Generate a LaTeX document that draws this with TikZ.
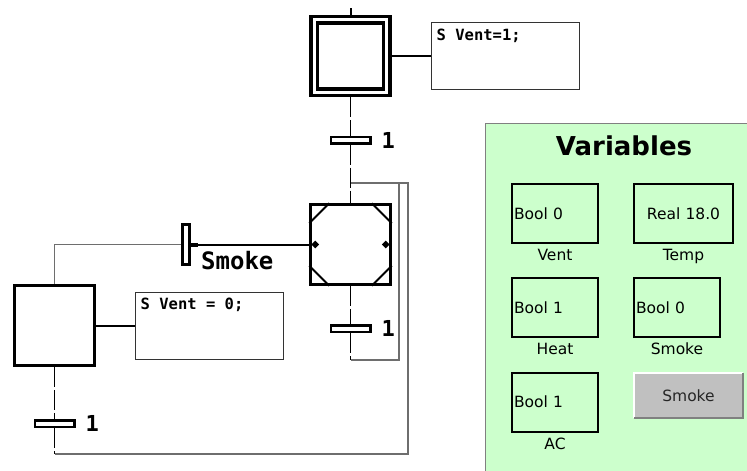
\documentclass[tikz,border=0pt]{standalone}
\usepackage{fontspec}
\setmainfont{DejaVu Sans}
\setmonofont{DejaVu Sans Mono}
\usetikzlibrary{positioning,shapes.geometric}
\definecolor{panelgreen}{RGB}{204,255,204}
\definecolor{btngray}{RGB}{192,192,192}
\definecolor{wiregray}{RGB}{110,110,110}
\tikzset{
  stepbox/.style={draw, line width=3pt, minimum size=79.5pt, inner sep=0pt, fill=white},
  trans/.style={draw, line width=2.5pt, fill=white, minimum width=39.5pt, minimum height=6.5pt, inner sep=0pt},
  actbox/.style={draw=black!80, line width=1pt, fill=white, minimum width=148pt, minimum height=67pt, inner sep=0pt},
  acttext/.style={font=\ttfamily\bfseries\fontsize{15.5}{18}\selectfont, inner sep=0pt},
  cond/.style={font=\ttfamily\bfseries\fontsize{22}{24}\selectfont, inner sep=0pt},
  flow/.style={line width=1.4pt, dash pattern=on 20pt off 3pt},
  link/.style={line width=2pt},
  back/.style={draw=wiregray, line width=1.1pt},
  varbox/.style={draw, line width=2pt, minimum height=59pt, inner sep=2pt, align=left, text width=82pt, font=\fontsize{15.5}{18}\selectfont},
  varname/.style={font=\fontsize{15.5}{18}\selectfont, inner sep=0pt},
}
\begin{document}
\begin{tikzpicture}[x=1pt, y=-1pt]
    \useasboundingbox (0,0) rectangle (747,471);

    % variables panel
    \node[draw=gray, fill=panelgreen, line width=1pt, anchor=north west, minimum width=290pt, minimum height=360pt]
        (panel) at (485,123) {};
    \node[font=\bfseries\fontsize{26}{30}\selectfont, anchor=base] (title) at (624,155) {Variables};
    \node[varbox] (vent) at (555,213.5) {Bool 0};
    \node[varbox, text width=95pt, align=center] (temp) at (683.5,213.5) {Real 18.0};
    \node[varbox] (heat) at (555,307.5) {Bool 1};
    \node[varbox] (smoke) at (677,307.5) {Bool 0};
    \node[varbox] (ac) at (555,402) {Bool 1};
    \foreach \v/\lbl in {vent/Vent, temp/Temp, heat/Heat, smoke/Smoke, ac/AC}
        \node[varname, below=5pt of \v] (\v-lbl) {\lbl};

    \node[fill=btngray, minimum width=109pt, minimum height=45pt, inner sep=0pt, font=\fontsize{15.5}{18}\selectfont, text=black!85]
        (btn) at (688.5,395.5) {Smoke};
    \draw[white, line width=2pt] (btn.south west) |- (btn.north east);
    \draw[gray, line width=2pt] (btn.south west) -| (btn.north east);

    % steps
    \node[stepbox, double, double distance=3.3pt, line width=3.3pt, minimum size=72.5pt, outer sep=5pt]
        (init) at (350.5,56) {};
    \node[stepbox] (macro) at (350.5,244.5) {};
    \node[stepbox] (stop) at (54.5,325.5) {};
    \foreach \c/\sx/\sy in {north west/1/-1, north east/-1/-1, south west/1/1, south east/-1/1}
        \draw[link] ([xshift=\sx*20pt]macro.\c) -- ([yshift=\sy*20pt]macro.\c);
    \node[diamond, fill, inner sep=0pt, minimum size=8pt] (macin) at ([xshift=6pt]macro.west) {};
    \node[diamond, fill, inner sep=0pt, minimum size=8pt] (macout) at ([xshift=-6pt]macro.east) {};

    % transitions
    \node[trans] (tr1) at (350.5,140) {};
    \node[trans] (tr2) at (350.5,328.5) {};
    \node[trans] (tr3) at (54.5,423.5) {};
    \node[trans, minimum width=7pt, minimum height=40pt] (trsmoke) at (186,244.5) {};
    \node[cond, right=10pt of tr1] (c1) {1};
    \node[cond, right=10pt of tr2] (c2) {1};
    \node[cond, right=10pt of tr3] (c3) {1};
    \node[font=\ttfamily\bfseries\fontsize{24}{28}\selectfont, anchor=base west, inner sep=0pt]
        (csmoke) at (201,269) {Smoke};

    % actions
    \node[actbox] (act1) at (505,56) {};
    \node[acttext, below right=7pt and 6pt of act1.north west] (act1t) {S Vent=1;};
    \node[actbox] (act2) at (209,325.5) {};
    \node[acttext, below right=6.5pt and 6pt of act2.north west] (act2t) {S Vent = 0;};

    % connectors
    \coordinate (entry) at (350.5,8);
    \coordinate (join) at (350.5,183);
    \coordinate (loopa) at (350.5,360);
    \coordinate (loopb) at (54.5,454);
    \coordinate (ra) at (399,183);
    \coordinate (rb) at (408,183);

    \draw[link] (entry) -- (init);
    \draw[link] (init) -- (act1);
    \draw[link] (stop) -- (act2);
    \draw[flow] (init) -- (tr1);
    \draw[flow] (tr1) -- (macro);
    \draw[flow] (macro) -- (tr2);
    \draw[flow] (tr2) -- (loopa);
    \draw[back] (loopa) -| (ra) -- (join);
    \draw[flow] (stop) -- (tr3);
    \draw[flow] (tr3) -- (loopb);
    \draw[back] (loopb) -| (rb) -- (join);
    \draw[link] (trsmoke) -- (macin);
    \draw[line width=4pt] (trsmoke.east) -- +(7pt,0);
    \draw[back] (trsmoke) -| (stop);
\end{tikzpicture}
\end{document}
